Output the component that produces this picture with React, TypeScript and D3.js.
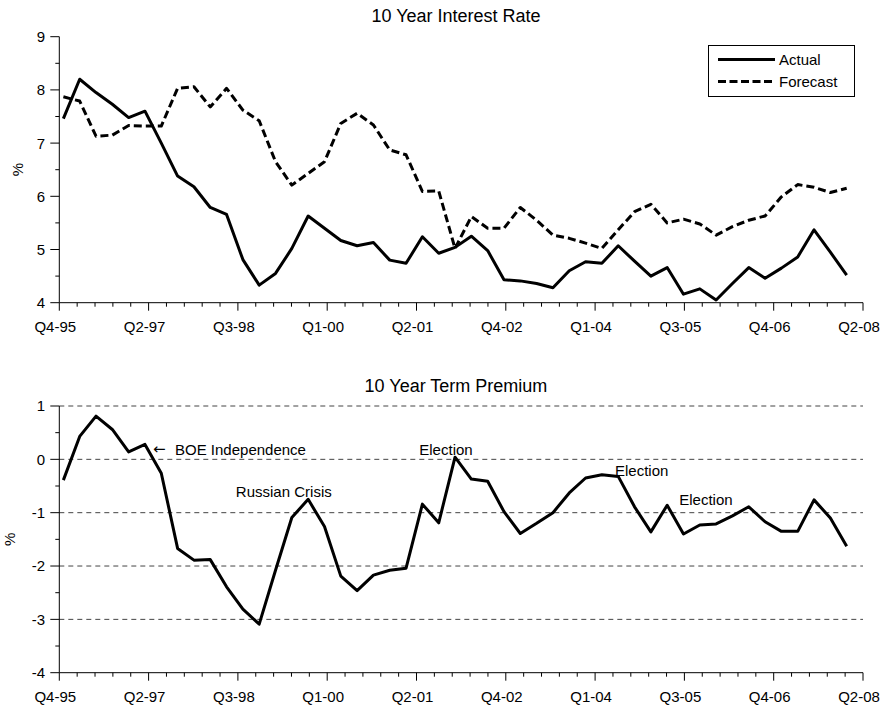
import React from 'react';
import * as d3 from 'd3';

// ---- data (quarterly, Q4-95 .. Q4-07) ----
const tickLabels = ['Q4-95', 'Q2-97', 'Q3-98', 'Q1-00', 'Q2-01', 'Q4-02', 'Q1-04', 'Q3-05', 'Q4-06', 'Q2-08'];

const actual = [7.46, 8.2, 7.95, 7.73, 7.48, 7.6, 7.0, 6.38, 6.18, 5.79, 5.66, 4.81, 4.33, 4.55, 5.02, 5.63, 5.4, 5.17, 5.07, 5.13,
  4.8, 4.74, 5.24, 4.93, 5.04, 5.25, 4.98, 4.43, 4.41, 4.36, 4.28, 4.6, 4.77, 4.74, 5.07, 4.78, 4.5, 4.66, 4.16, 4.26,
  4.05, 4.36, 4.66, 4.46, 4.65, 4.86, 5.37, 4.95, 4.52];

const forecast = [7.87, 7.79, 7.13, 7.15, 7.33, 7.32, 7.32, 8.03, 8.06, 7.68, 8.03, 7.62, 7.42, 6.65, 6.21, 6.43, 6.65, 7.37, 7.56, 7.34,
  6.87, 6.78, 6.09, 6.1, 5.02, 5.62, 5.4, 5.4, 5.79, 5.55, 5.27, 5.21, 5.12, 5.02, 5.37, 5.71, 5.85, 5.5, 5.57, 5.48,
  5.27, 5.43, 5.55, 5.63, 5.99, 6.22, 6.17, 6.07, 6.15];

const termPremium = [-0.39, 0.43, 0.81, 0.56, 0.14, 0.28, -0.26, -1.67, -1.89, -1.88, -2.39, -2.81, -3.09, -2.08, -1.09, -0.75, -1.26, -2.19, -2.46, -2.17,
  -2.08, -2.04, -0.84, -1.19, 0.04, -0.37, -0.41, -0.98, -1.39, -1.2, -1.0, -0.63, -0.35, -0.29, -0.32, -0.89, -1.36, -0.86, -1.4, -1.23,
  -1.21, -1.06, -0.89, -1.17, -1.35, -1.35, -0.76, -1.1, -1.63];

const topTicks = [4, 5, 6, 7, 8, 9];
const botTicks = [-4, -3, -2, -1, 0, 1];

// annotation anchors (quarter index, value) in the term premium panel
const annotationText = ['BOE Independence', 'Russian Crisis', 'Election', 'Election', 'Election'];
const annotationQ = [6.84, 10.57, 21.81, 33.8, 37.74];
const annotationV = [0.08, -0.71, 0.08, -0.31, -0.86];

const FONT = '"Liberation Sans", Arial, Helvetica, sans-serif';

export default function App() {
  const xLeft = 59.3, xRight = 863;
  const qStart = -0.25, qEnd = 49;
  const x = d3.scaleLinear().domain([qStart, qEnd]).range([xLeft, xRight]);
  const xTicks = d3.range(46).map(k => qStart + (k * (qEnd - qStart)) / 45);

  const yTop = d3.scaleLinear().domain([4, 9]).range([302.7, 36.7]);
  const yBot = d3.scaleLinear().domain([-4, 1]).range([672.7, 406]);

  const lineTop = d3.line<number>().x((_, i) => x(i)).y(d => yTop(d));
  const lineBot = d3.line<number>().x((_, i) => x(i)).y(d => yBot(d));

  const yAxis = (y: d3.ScaleLinear<number, number>, ticks: number[], labelRight: number) => {
    const [lo, hi] = y.domain();
    const minor = d3.range(lo, hi + 0.001, 0.5);
    return (
      <g>
        <line x1={xLeft} x2={xLeft} y1={y(lo)} y2={y(hi)} stroke="#000" strokeWidth={1} />
        {minor.map(v => (
          <line key={'m' + v} x1={xLeft - (Number.isInteger(v) ? 9 : 4)} x2={xLeft} y1={y(v)} y2={y(v)} stroke="#000" strokeWidth={1} />
        ))}
        {ticks.map(v => (
          <text key={'t' + v} x={labelRight} y={y(v)} dy="0.36em" textAnchor="end" fontSize={15} fontFamily={FONT} fill="#000">{v}</text>
        ))}
      </g>
    );
  };

  const xAxis = (axisY: number) => (
    <g>
      <line x1={xLeft} x2={xRight} y1={axisY} y2={axisY} stroke="#000" strokeWidth={1} />
      {xTicks.map((q, k) => (
        <line key={k} x1={x(q)} x2={x(q)} y1={axisY} y2={axisY + (k % 5 === 0 ? 8 : 4)} stroke="#000" strokeWidth={1} />
      ))}
      {xTicks.filter((_, k) => k % 5 === 0).map((q, j) => (
        <text key={'l' + j} x={x(q) - 4} y={axisY + 29.5} textAnchor="middle" fontSize={15} fontFamily={FONT} fill="#000">{tickLabels[j]}</text>
      ))}
    </g>
  );

  return (
    <div style={{ position: 'absolute', left: 0, top: 0 }}>
      <svg width={883} height={710} style={{ display: 'block', background: '#fff' }}>
        <rect x={0} y={0} width={883} height={710} fill="#fff" />

        {/* ---- Top panel ---- */}
        <text x={456} y={21.7} textAnchor="middle" fontSize={18} fontFamily={FONT} fill="#000">10 Year Interest Rate</text>
        <text transform={`translate(23,${(yTop(4) + yTop(9)) / 2}) rotate(-90)`} textAnchor="middle" fontSize={15} fontFamily={FONT} fill="#000">%</text>
        {yAxis(yTop, topTicks, 45)}
        {xAxis(yTop(4))}
        <path d={lineTop(forecast) || ''} fill="none" stroke="#000" strokeWidth={3} strokeDasharray="8,4" strokeLinejoin="round" />
        <path d={lineTop(actual) || ''} fill="none" stroke="#000" strokeWidth={3} strokeLinejoin="round" />

        {/* legend */}
        <rect x={708.5} y={45.5} width={146} height={51} fill="#fff" stroke="#000" strokeWidth={1} />
        <line x1={718} x2={775} y1={59.5} y2={59.5} stroke="#000" strokeWidth={3} />
        <line x1={718} x2={775} y1={81.5} y2={81.5} stroke="#000" strokeWidth={3} strokeDasharray="8,3.5" />
        <text x={779} y={65} fontSize={15} fontFamily={FONT} fill="#000">Actual</text>
        <text x={779} y={87} fontSize={15} fontFamily={FONT} fill="#000">Forecast</text>

        {/* ---- Bottom panel ---- */}
        <text x={456} y={391.7} textAnchor="middle" fontSize={18} fontFamily={FONT} fill="#000">10 Year Term Premium</text>
        <text transform={`translate(15,${(yBot(-4) + yBot(1)) / 2}) rotate(-90)`} textAnchor="middle" fontSize={15} fontFamily={FONT} fill="#000">%</text>
        {botTicks.filter(v => v > -4).map(v => (
          <line key={'g' + v} x1={xLeft} x2={xRight} y1={yBot(v)} y2={yBot(v)} stroke="#444" strokeWidth={1} strokeDasharray="5,4" />
        ))}
        {yAxis(yBot, botTicks, 45)}
        {xAxis(yBot(-4))}
        <path d={lineBot(termPremium) || ''} fill="none" stroke="#000" strokeWidth={3} strokeLinejoin="round" />

        {/* annotations */}
        <text x={x(annotationQ[0]) - 22} y={yBot(annotationV[0]) - 1} fontSize={15} fontFamily={'"DejaVu Sans", sans-serif'} fill="#000">←</text>
        {annotationText.map((t, i) => (
          <text key={'a' + i} x={x(annotationQ[i])} y={yBot(annotationV[i])} fontSize={15} fontFamily={FONT} fill="#000">{t}</text>
        ))}
      </svg>
    </div>
  );
}
